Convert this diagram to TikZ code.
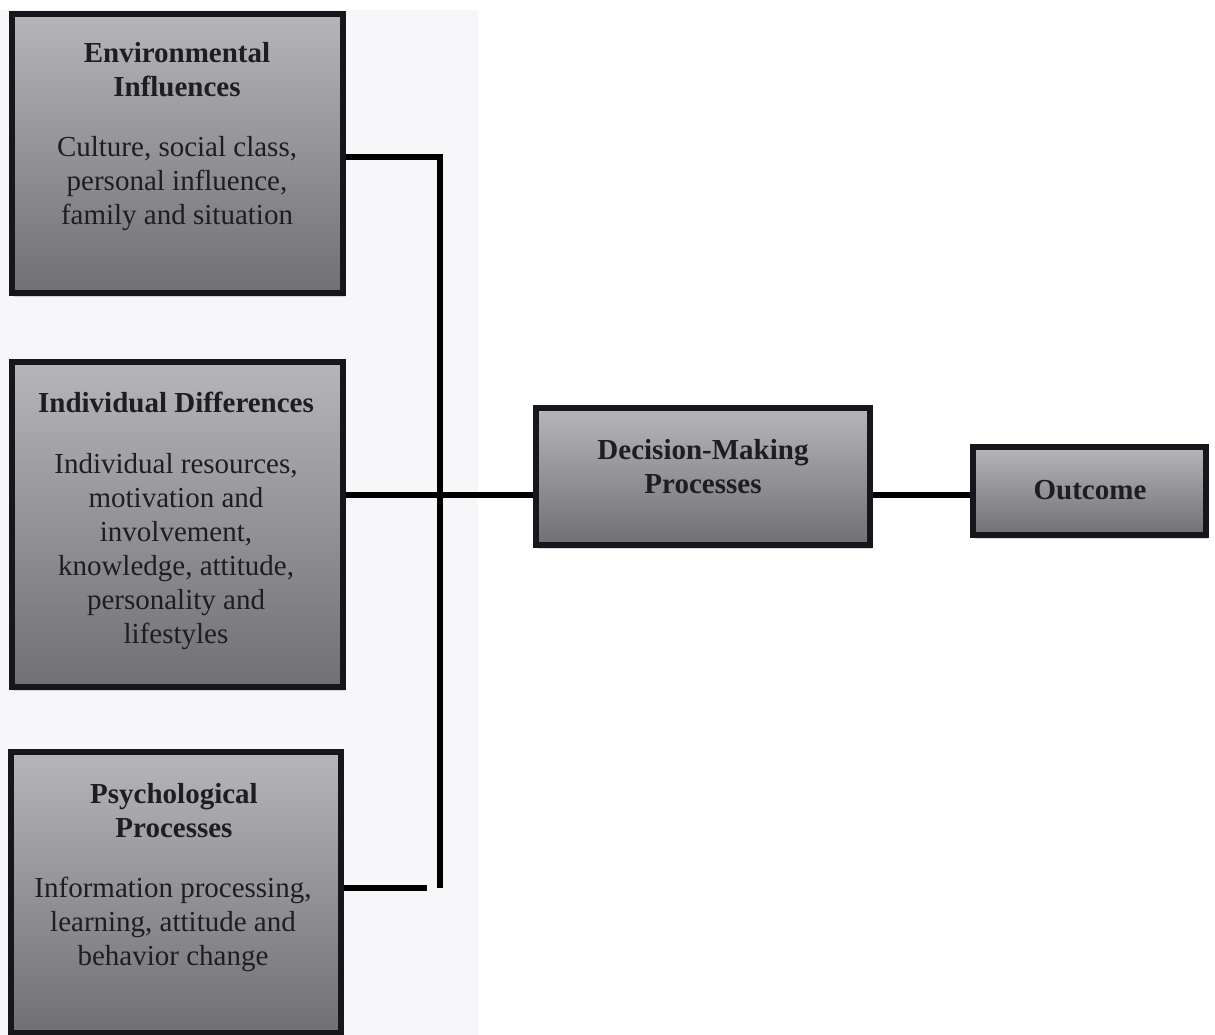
\documentclass[tikz,border=0pt]{standalone}
\usepackage{fontspec}
\setmainfont{Liberation Serif}
\usetikzlibrary{shadows}
\definecolor{boxtop}{HTML}{B6B6B8}
\definecolor{boxmid}{HTML}{9C9C9E}
\definecolor{boxbot}{HTML}{707072}
\definecolor{boxline}{HTML}{16161C}
\definecolor{txt}{HTML}{1E1E22}
\definecolor{bgtint}{HTML}{F7F7FA}
\tikzset{
  box/.style={rectangle, draw=boxline, line width=6pt, inner sep=0pt,
    top color=boxtop, middle color=boxmid, bottom color=boxbot,
    drop shadow={shadow xshift=2pt, shadow yshift=-4pt, opacity=0.3, fill=gray}},
  title/.style={font=\fontsize{29}{34}\selectfont\bfseries, text=txt, align=center, anchor=base, inner sep=0pt},
  body/.style={font=\fontsize{29}{34}\selectfont, text=txt, align=center, anchor=base, inner sep=0pt},
  conn/.style={draw=black, line width=5.5pt}
}
\begin{document}
\begin{tikzpicture}[x=1pt,y=-1pt]
\useasboundingbox (0,0) rectangle (1215,1035);
\fill[bgtint] (0,10) rectangle (478,1035);
% boxes
\node[box, minimum width=331pt, minimum height=279pt] (env) at (177.5,153.5) {};
\node[box, minimum width=331pt, minimum height=325pt] (ind) at (177.5,524.5) {};
\node[box, minimum width=330pt, minimum height=281pt] (psy) at (176,892.5) {};
\node[box, minimum width=334pt, minimum height=137pt] (dec) at (703,476.5) {};
\node[box, minimum width=233pt, minimum height=88pt] (out) at (1089.5,491) {};
% texts (anchor = baseline of the last line)
\node[title] (envt) at (177,97) {Environmental\\Influences};
\node[body] (envb) at (177,225) {Culture, social class,\\personal influence,\\family and situation};
\node[title] (indt) at (176,412) {Individual Differences};
\node[body] (indb) at (176,643) {Individual resources,\\motivation and\\involvement,\\knowledge, attitude,\\personality and\\lifestyles};
\node[title] (psyt) at (174,837) {Psychological\\Processes};
\node[body] (psyb) at (173,965) {Information processing,\\learning, attitude and\\behavior change};
\node[title] (dect) at (703,493) {Decision-Making\\Processes};
\node[title] (outt) at (1090,499) {Outcome};
% connectors
\coordinate (jtop) at (440,157);
\coordinate (jbot) at (440,888);
\coordinate (jmid) at (440,495);
\coordinate (pend) at (427,888);
\coordinate (omid) at (920,495);
\draw[conn] (env.east |- jtop) -- (jtop) -- (jbot);
\draw[conn] (ind.east |- jmid) -- (dec.west |- jmid);
\draw[conn] (psy.east |- pend) -- (pend);
\draw[conn] (dec.east |- omid) -- (out.west |- omid);
\end{tikzpicture}
\end{document}
